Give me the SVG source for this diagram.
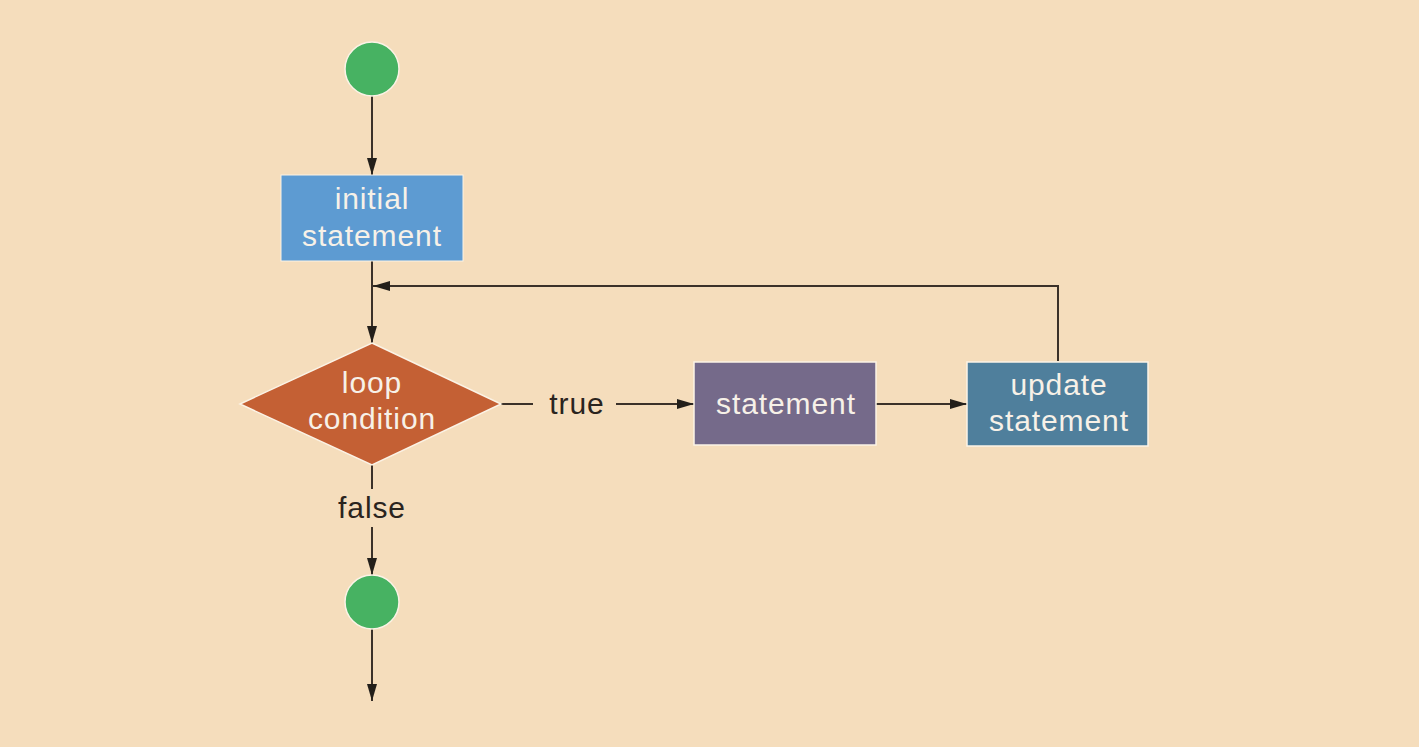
<svg xmlns="http://www.w3.org/2000/svg" width="1419" height="747" viewBox="0 0 1419 747">
<defs>
<marker id="arr" viewBox="0 0 17 10" refX="17" refY="5" markerWidth="17" markerHeight="10" markerUnits="userSpaceOnUse" orient="auto">
<path d="M0,0 L17,5 L0,10 z" fill="#231f1a"/>
</marker>
<style>
.ln{stroke:#3b3129;stroke-width:2;fill:none;marker-end:url(#arr)}
.pl{stroke:#3b3129;stroke-width:2;fill:none}
.nt{font-family:"Liberation Sans",Arial,sans-serif;font-size:30px;letter-spacing:0.9px;fill:#f7f1e8;text-anchor:middle}
.lb{font-family:"Liberation Sans",Arial,sans-serif;font-size:30px;letter-spacing:0.9px;fill:#2a241e;text-anchor:middle}
.term{fill:#47b262;stroke:#fbf3e6;stroke-width:1.5}
</style>
</defs>
<rect width="1419" height="747" fill="#f5ddbc"/>
<g id="connectors">
<line class="ln" x1="372" y1="96" x2="372" y2="175"/>
<line class="ln" x1="372" y1="261" x2="372" y2="343"/>
<polyline class="ln" points="1058,361 1058,286 373,286"/>
<line class="pl" x1="501" y1="404" x2="533" y2="404"/>
<line class="ln" x1="616" y1="404" x2="694" y2="404"/>
<line class="ln" x1="876" y1="404" x2="967" y2="404"/>
<line class="pl" x1="372" y1="465" x2="372" y2="489"/>
<line class="ln" x1="372" y1="527" x2="372" y2="575"/>
<line class="ln" x1="372" y1="629" x2="372" y2="701"/>
<text class="lb" x="577" y="414">true</text>
<text class="lb" x="372" y="518">false</text>
</g>
<g id="start">
<circle class="term" cx="372" cy="69" r="27"/>
</g>
<g id="initial">
<rect x="281" y="175" width="182" height="86" fill="#5d9bd2" stroke="#fbf3e6" stroke-width="1"/>
<text class="nt" x="372" y="209">initial</text>
<text class="nt" x="372" y="246">statement</text>
</g>
<g id="condition">
<polygon points="372,343 501,404 372,465 240,404" fill="#c46034" stroke="#fbf3e6" stroke-width="1.5"/>
<text class="nt" x="372" y="393">loop</text>
<text class="nt" x="372" y="429">condition</text>
</g>
<g id="statement">
<rect x="694" y="362" width="182" height="83" fill="#756a8a" stroke="#fbf3e6" stroke-width="1.5"/>
<text class="nt" x="786" y="414">statement</text>
</g>
<g id="update">
<rect x="967" y="362" width="181" height="84" fill="#4f7f9c" stroke="#fbf3e6" stroke-width="1.5"/>
<text class="nt" x="1059" y="395">update</text>
<text class="nt" x="1059" y="431">statement</text>
</g>
<g id="end">
<circle class="term" cx="372" cy="602" r="27"/>
</g>
</svg>
